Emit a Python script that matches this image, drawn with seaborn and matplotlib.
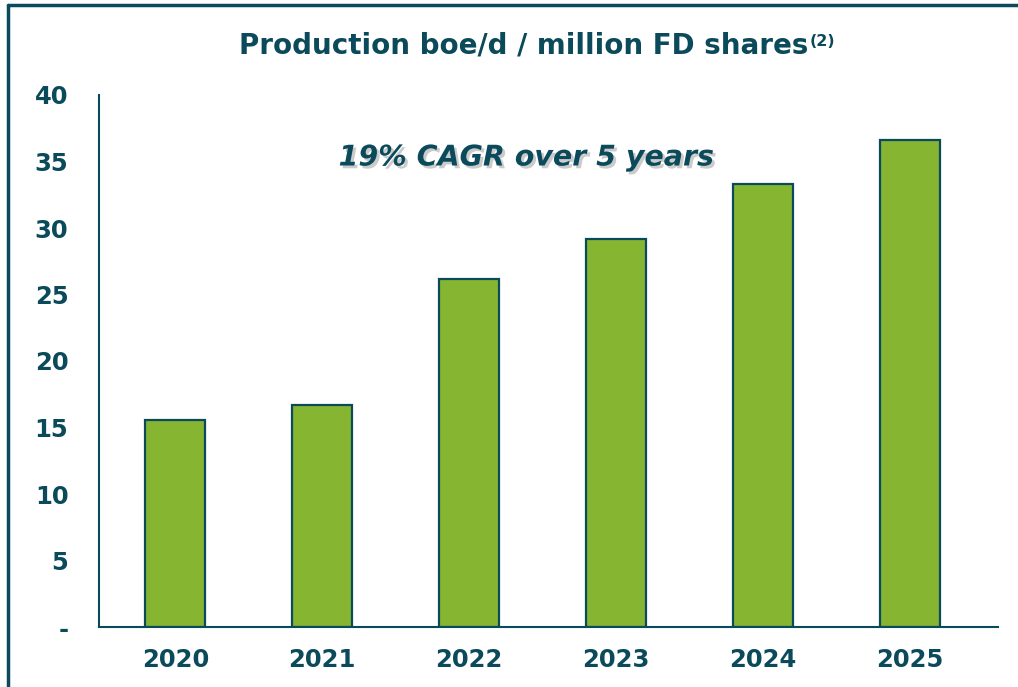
import matplotlib
matplotlib.use("Agg")
import matplotlib.pyplot as plt
import matplotlib.patheffects as pe
import seaborn as sns
import pandas as pd

years = ["2020", "2021", "2022", "2023", "2024", "2025"]
boe_per_share = [15.6, 16.7, 26.2, 29.2, 33.3, 36.6]
y_ticks = [0, 5, 10, 15, 20, 25, 30, 35, 40]
y_labels = ["-", "5", "10", "15", "20", "25", "30", "35", "40"]

teal = "#0b4a5a"
green = "#86b532"

sns.set_theme(style="white")
plt.rcParams["font.family"] = ["DejaVu Sans"]

df = pd.DataFrame({"Year": years, "Value": boe_per_share})

fig = plt.figure(figsize=(10.18, 6.87), dpi=100)
ax = fig.add_axes([99 / 1018, 1 - 627 / 687, (998 - 99) / 1018, (627 - 95) / 687])

sns.barplot(data=df, x="Year", y="Value", color=green, width=0.41,
            edgecolor=teal, linewidth=1.6, saturation=1, ax=ax)

ax.set_xlim(-0.52, 5.6)
ax.set_ylim(0, 40)
ax.set_yticks(y_ticks)
ax.set_yticklabels(y_labels)
ax.set_xlabel("")
ax.set_ylabel("")
for s in ["top", "right"]:
    ax.spines[s].set_visible(False)
for s in ["left", "bottom"]:
    ax.spines[s].set_color(teal)
    ax.spines[s].set_linewidth(1.5)
ax.tick_params(axis="both", length=0, labelcolor=teal, labelsize=17.5)
ax.tick_params(axis="y", pad=22)
ax.tick_params(axis="x", pad=15)
for lab in ax.get_xticklabels() + ax.get_yticklabels():
    lab.set_fontweight("bold")

title = fig.text(0.514, 1 - 45 / 687, "Production boe/d / million FD shares",
                 ha="center", va="center", fontsize=20, fontweight="bold", color=teal)
ax.annotate("(2)", xy=(1, 1), xycoords=title, xytext=(1, -2), textcoords="offset points",
            ha="left", va="top", fontsize=11.5, fontweight="bold", color=teal,
            annotation_clip=False)

ax.text(2.39, 35.3, "19% CAGR over 5 years", ha="center", va="center",
        fontsize=20.5, fontweight="bold", fontstyle="italic", color=teal,
        path_effects=[pe.withSimplePatchShadow(offset=(2, -2), shadow_rgbFace="#999999", alpha=0.5)])

# frame lines at the top and left of the slide
fig.add_artist(plt.Line2D([8 / 1018, 1], [1 - 5 / 687, 1 - 5 / 687], color=teal, lw=2.5,
                          transform=fig.transFigure))
fig.add_artist(plt.Line2D([8 / 1018, 8 / 1018], [0, 1 - 5 / 687], color=teal, lw=2.5,
                          transform=fig.transFigure))

fig.savefig("out.png", dpi=100)
